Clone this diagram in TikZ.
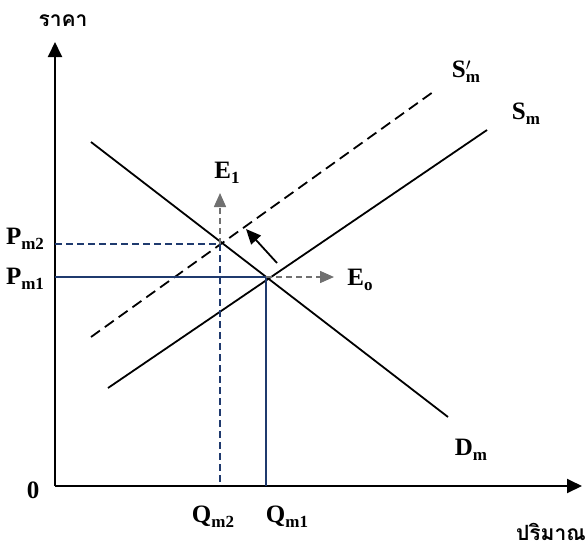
\documentclass[tikz,border=0pt]{standalone}
\usepackage{fontspec}
\setmainfont{Liberation Serif}
\newfontfamily\thaifont[Script=Thai]{Loma}
\usetikzlibrary{arrows.meta}
\definecolor{navyline}{HTML}{1F3A6E}
\definecolor{grayarr}{HTML}{707070}
\newcommand\lowsub[1]{\raisebox{-0.45ex}{\fontsize{17}{17}\selectfont\bfseries #1}}
\tikzset{
  axis/.style={line width=1.9pt,-{Triangle[length=15pt,width=14pt]}},
  curve/.style={line width=1.8pt},
  shifted/.style={line width=1.8pt,dash pattern=on 11pt off 6pt},
  level/.style={line width=1.4pt,navyline},
  leveldash/.style={line width=1.4pt,navyline,dash pattern=on 7pt off 4pt},
  grayarrow/.style={line width=1.5pt,grayarr,dash pattern=on 6pt off 4pt,-{Triangle[length=14pt,width=12pt]}},
  blackarrow/.style={line width=1.8pt,-{Triangle[length=15pt,width=13pt]}},
  lbl/.style={inner sep=0pt,font=\fontsize{25}{25}\selectfont\bfseries},
  thai/.style={inner sep=0pt,font=\thaifont\fontsize{21}{21}\selectfont\bfseries}
}
\begin{document}
\begin{tikzpicture}[x=1pt,y=-1pt]
\useasboundingbox (0,0) rectangle (588,549);
% axes
\coordinate (O) at (55,486);
\coordinate (ytop) at (55,42);
\coordinate (xend) at (582,486);
\draw[axis] (O) -- (ytop);
\draw[axis] (O) -- (xend);
% curves
\coordinate (d1) at (91,142);
\coordinate (d2) at (448,417);
\coordinate (s1) at (108,388);
\coordinate (s2) at (487,130);
\coordinate (t1) at (91,337);
\coordinate (t2) at (433,92);
\draw[curve] (d1) -- (d2);
\draw[curve] (s1) -- (s2);
\draw[shifted] (t1) -- (t2);
% equilibrium points
\coordinate (e0) at (266,277);
\coordinate (e1) at (220,244);
\coordinate (p1) at (55,277);
\coordinate (p2) at (55,244);
\coordinate (q1) at (266,486);
\coordinate (q2) at (220,486);
\draw[level] (p1) -- (e0) -- (q1);
\draw[leveldash] (p2) -- (e1) -- (q2);
% arrows
\coordinate (a1) at (220,193);
\coordinate (a2) at (334,277);
\coordinate (b1) at (277,263);
\coordinate (b2) at (246,229);
\draw[grayarrow] (e1) -- (a1);
\draw[grayarrow] (e0) -- (a2);
\draw[blackarrow] (b1) -- (b2);
% labels
\node[thai] (price) at (63,21) {ราคา};
\node[thai,anchor=east] (qty) at (586,532) {ปริมาณ};
\node[lbl] (zero) at (33,490) {0};
\node[lbl] (pm2) at (25,239) {P\lowsub{m2}};
\node[lbl] (pm1) at (25,279) {P\lowsub{m1}};
\node[lbl] (qm2) at (213,517) {Q\lowsub{m2}};
\node[lbl] (qm1) at (287,517) {Q\lowsub{m1}};
\node[lbl] (E1) at (227,173) {E\lowsub{1}};
\node[lbl] (Eo) at (360,280) {E\lowsub{o}};
\node[lbl] (Sp) at (466,72) {S\makebox[0pt][l]{\raisebox{0.6ex}{\fontsize{16}{16}\selectfont$\prime$}}\lowsub{m}};
\node[lbl] (Sm) at (526,114) {S\lowsub{m}};
\node[lbl] (Dm) at (471,450) {D\lowsub{m}};
\end{tikzpicture}
\end{document}
